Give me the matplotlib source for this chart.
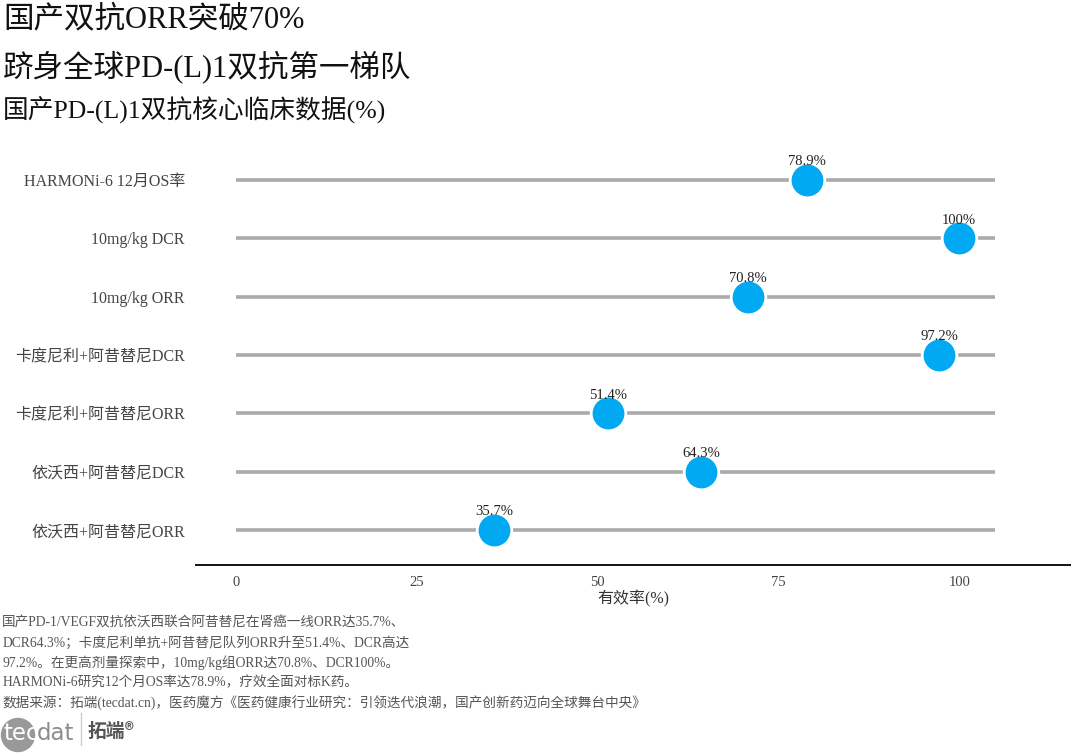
import numpy as np
import matplotlib
matplotlib.use("Agg")
from matplotlib import pyplot as plt
from matplotlib.patches import Circle

plt.rcParams['font.family'] = ['Liberation Serif', 'Noto Sans CJK SC', 'DejaVu Sans']

# data, bottom row first
categories = ['依沃西+阿昔替尼ORR', '依沃西+阿昔替尼DCR', '卡度尼利+阿昔替尼ORR',
              '卡度尼利+阿昔替尼DCR', '10mg/kg ORR', '10mg/kg DCR', 'HARMONi-6 12月OS率']
values = [35.7, 64.3, 51.4, 97.2, 70.8, 100, 78.9]
value_labels = ['35.7%', '64.3%', '51.4%', '97.2%', '70.8%', '100%', '78.9%']
x_ticks = [0, 25, 50, 75, 100]

title1 = '国产双抗ORR突破70%'
title2 = '跻身全球PD-(L)1双抗第一梯队'
subtitle = '国产PD-(L)1双抗核心临床数据(%)'
notes = ['国产PD-1/VEGF双抗依沃西联合阿昔替尼在肾癌一线ORR达35.7%、',
         'DCR64.3%；卡度尼利单抗+阿昔替尼队列ORR升至51.4%、DCR高达',
         '97.2%。在更高剂量探索中，10mg/kg组ORR达70.8%、DCR100%。',
         'HARMONi-6研究12个月OS率达78.9%，疗效全面对标K药。',
         '数据来源：拓端(tecdat.cn)，医药魔方《医药健康行业研究：引领迭代浪潮，国产创新药迈向全球舞台中央》']

fig = plt.figure(figsize=(10.8, 7.56), dpi=100)
ax = fig.add_axes([0.1815, 0.2526, 0.8092, 0.5554])

y = np.arange(len(categories))
ax.hlines(y, 0, 105, color='#aaaaaa', linewidth=2.6, zorder=1)
ax.scatter(values, y, s=620, color='#00a9f1', edgecolor='white', linewidth=2, zorder=3)
for xv, yv, lab in zip(values, y, value_labels):
    ax.text(xv, yv + 0.2, lab, ha='center', va='bottom', fontsize=10.5, color='#222222', zorder=4)

ax.set_xlim(-5.5, 115.3)
ax.set_ylim(-0.6, len(categories) - 0.4)
ax.set_yticks(y)
ax.set_yticklabels(categories, fontsize=11.5, color='#444444')
ax.set_xticks(x_ticks)
ax.set_xticklabels([str(t) for t in x_ticks], fontsize=10.5, color='#444444')
ax.tick_params(length=0, pad=8)
ax.tick_params(axis='y', pad=8)
ax.set_xlabel('有效率(%)', fontsize=11.5, color='#333333', labelpad=1)
for side in ['top', 'right', 'left']:
    ax.spines[side].set_visible(False)
ax.spines['bottom'].set_linewidth(1.4)
ax.spines['bottom'].set_color('#111111')

fig.text(0.003, 0.974, title1, fontsize=22, va='center', ha='left', color='#111111')
fig.text(0.003, 0.910, title2, fontsize=22, va='center', ha='left', color='#111111')
fig.text(0.003, 0.854, subtitle, fontsize=18.5, va='center', ha='left', color='#111111')

for i, line in enumerate(notes):
    fig.text(0.002, 1 - (623 + i * 20) / 756, line, fontsize=9.8, va='center', ha='left', color='#555555')

# logo, drawn in pixel-like units
logo = fig.add_axes([0.0, 0.0, 160 / 1080, 56 / 756])
logo.set_xlim(0, 160)
logo.set_ylim(756, 700)
logo.axis('off')
logo.add_patch(Circle((18, 735), 16.5, color='#999999'))
logo.text(3, 734, 'tec', fontsize=16.5, color='white', va='center', ha='left', family='DejaVu Sans')
logo.text(37, 734, 'dat', fontsize=16.5, color='#8c8c8c', va='center', ha='left', family='DejaVu Sans')
logo.plot([81, 81], [713, 745], color='#cccccc', linewidth=1)
logo.text(88, 731, '拓端®', fontsize=13.5, color='#555555', va='center', ha='left',
          family=['Noto Sans CJK SC', 'DejaVu Sans'], fontweight='bold')

fig.savefig('out.png', dpi=100)
